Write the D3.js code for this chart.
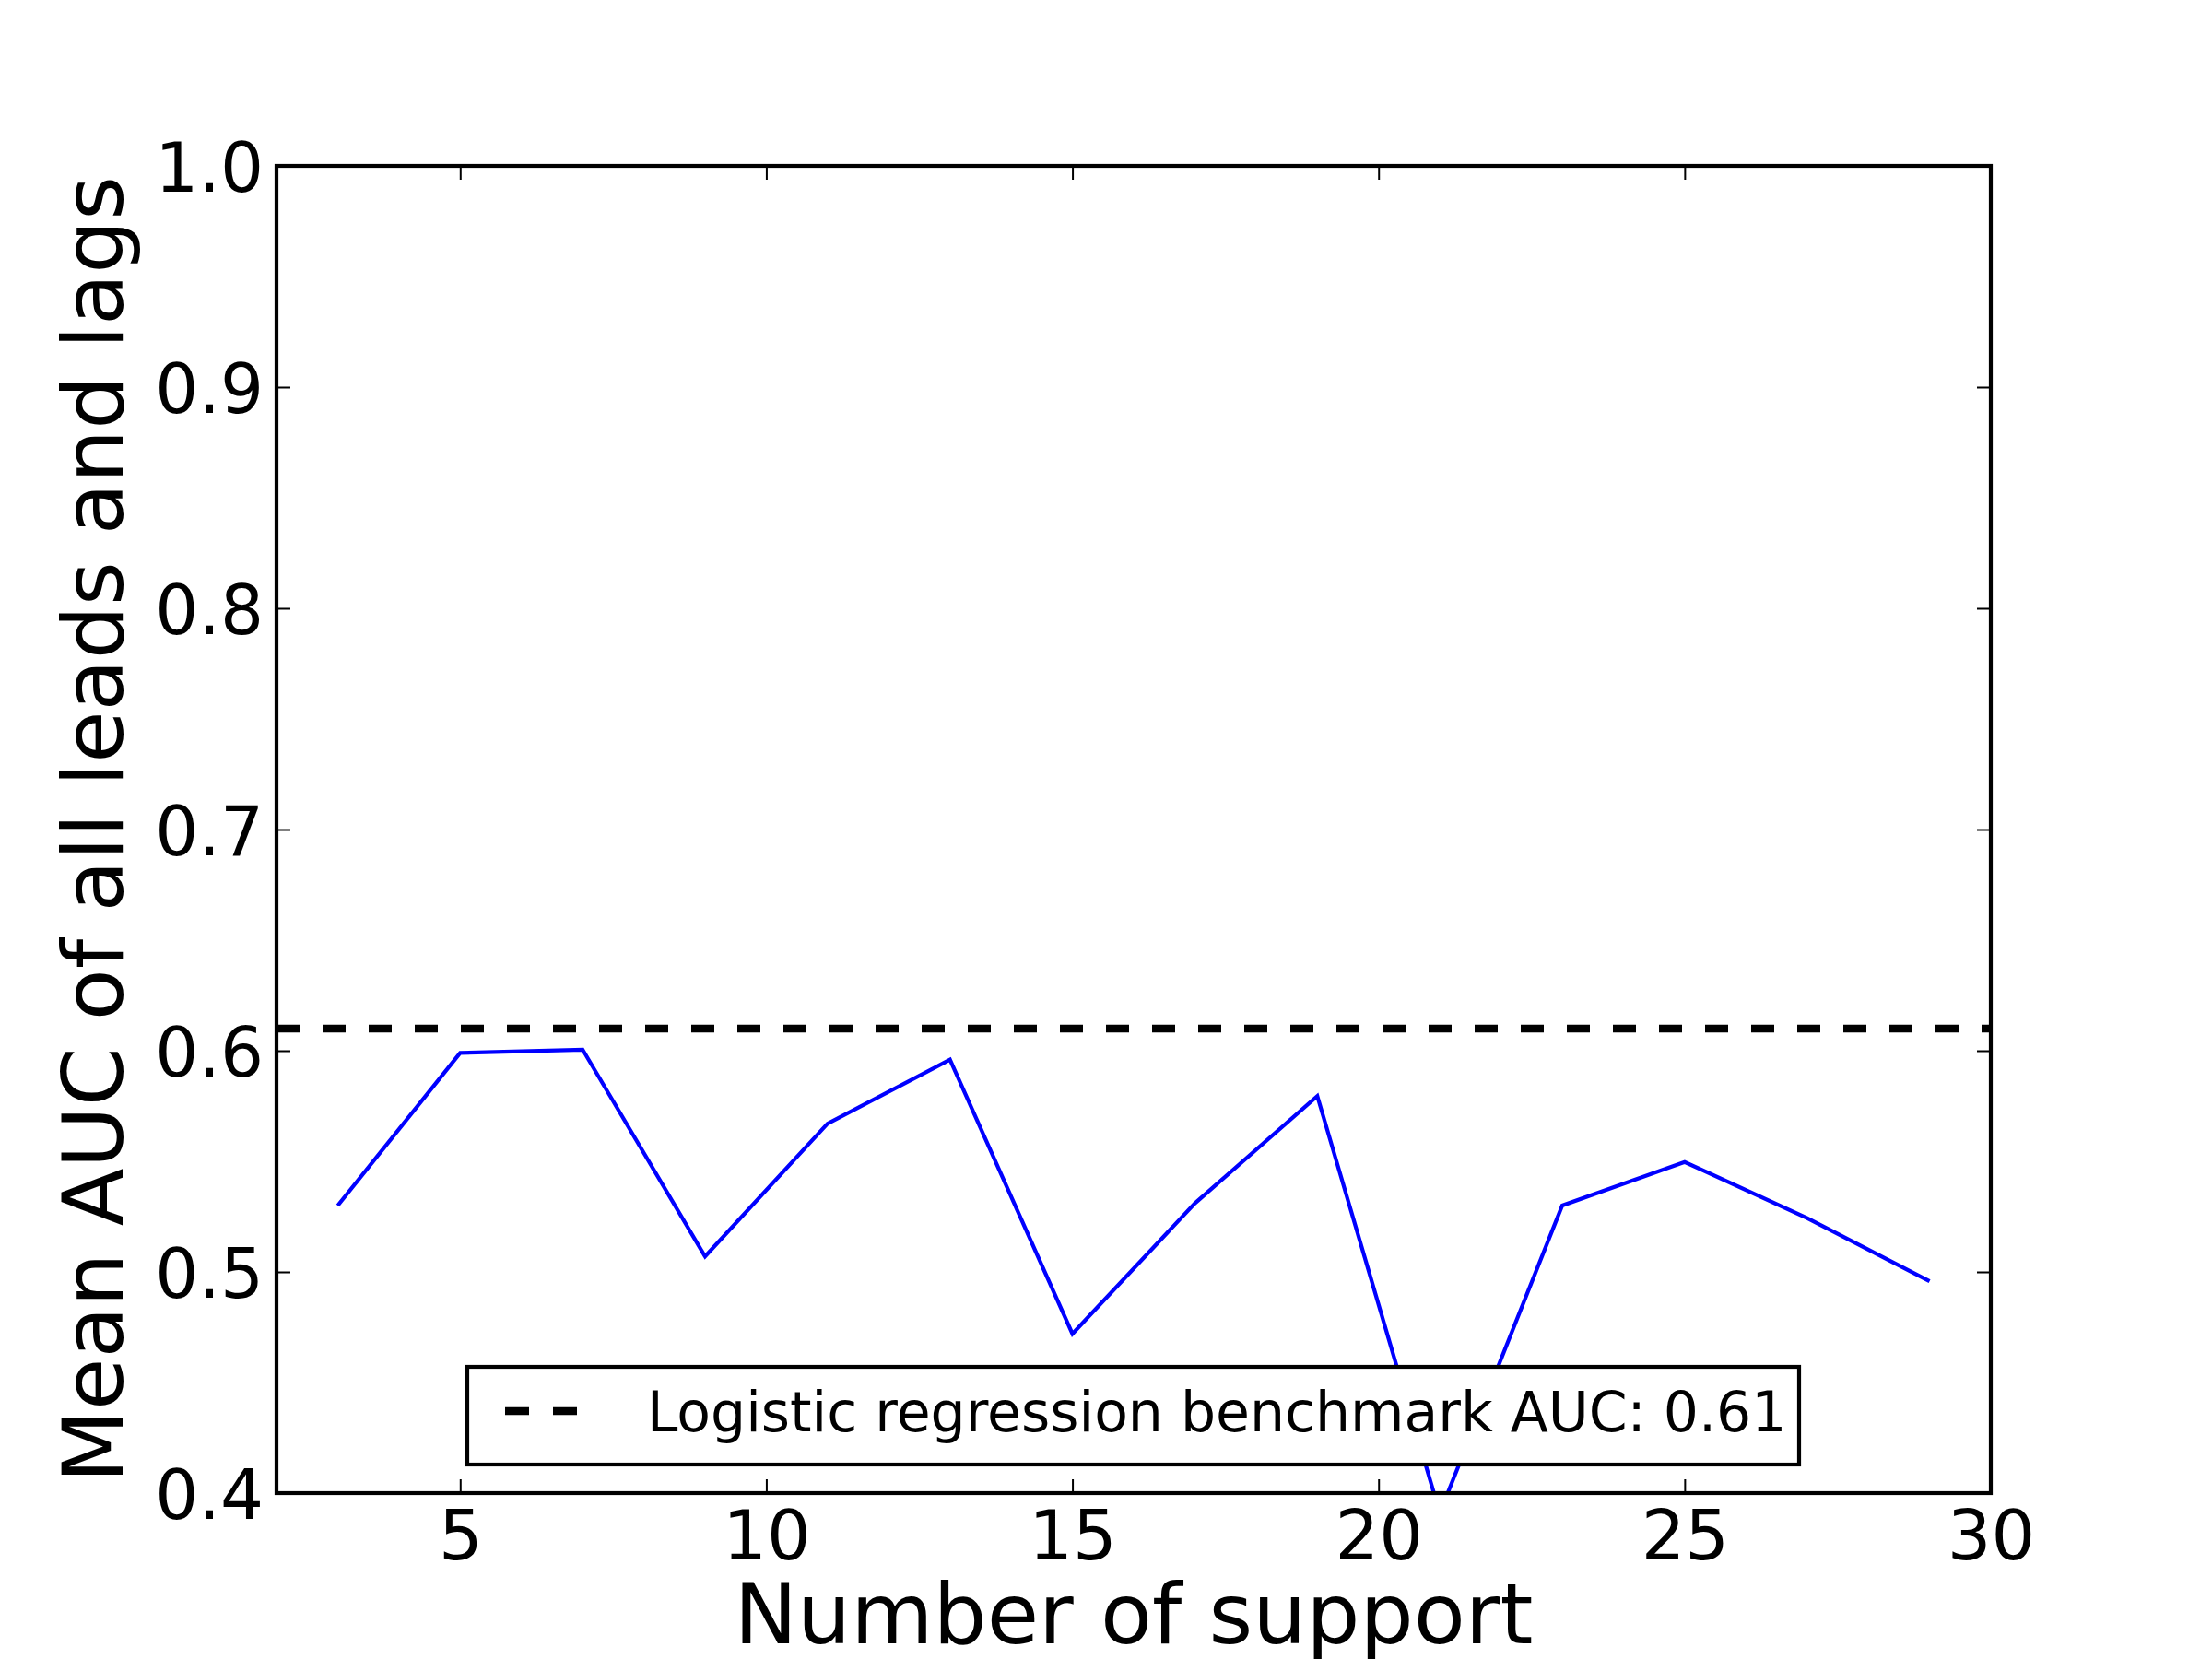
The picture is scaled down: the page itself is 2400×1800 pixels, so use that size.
<!DOCTYPE html>
<html>
<head>
<meta charset="utf-8">
<script src="https://cdn.jsdelivr.net/npm/d3@7"></script>
<style>
    body { margin: 0; background: #fff; }
    svg { display: block; }
    text { font-family: "DejaVu Sans", sans-serif; fill: #000; }
</style>
</head>
<body>
<svg id="svgmain" width="2400" height="1800"></svg>
<script>
// number of support (x) and mean AUC (y)
var supports = [3, 5, 7, 9, 11, 13, 15, 17, 19, 21, 23, 25, 27, 29]
var meanAuc = [0.530, 0.599, 0.6005, 0.507, 0.567, 0.596, 0.472, 0.531, 0.5795, 0.391, 0.530, 0.5497, 0.5243, 0.4958]
var benchmarkAuc = 0.61
var xTicks = [5, 10, 15, 20, 25, 30]
var yTicks = [0.4, 0.5, 0.6, 0.7, 0.8, 0.9, 1.0]
var xLabel = "Number of support"
var yLabel = "Mean AUC of all leads and lags"
var legendLabel = "Logistic regression benchmark AUC: 0.61"

// plot box (note: "top" is taken by window, so use other names)
var plotLeft = 300, plotRight = 2160, plotTop = 180, plotBottom = 1620

var mainsvg = d3.select("#svgmain")

var x = d3.scaleLinear().domain([2, 30]).range([plotLeft, plotRight])
var y = d3.scaleLinear().domain([0.4, 1.0]).range([plotBottom, plotTop])

mainsvg.append("defs").append("clipPath").attr("id", "plotclip")
    .append("rect").attr("x", plotLeft).attr("y", plotTop)
    .attr("width", plotRight - plotLeft).attr("height", plotBottom - plotTop)

// benchmark line
mainsvg.append("line")
    .attr("x1", x(2)).attr("x2", x(30))
    .attr("y1", y(benchmarkAuc)).attr("y2", y(benchmarkAuc))
    .attr("stroke", "#000").attr("stroke-width", 8.3)
    .attr("stroke-dasharray", "25,25")
    .attr("clip-path", "url(#plotclip)")

// AUC series
var line = d3.line()
    .x(function(d, i) { return x(supports[i]) })
    .y(function(d) { return y(d) })

mainsvg.append("path")
    .datum(meanAuc)
    .attr("d", line)
    .attr("fill", "none")
    .attr("stroke", "#0000ff")
    .attr("stroke-width", 4.2)
    .attr("stroke-linejoin", "miter")
    .attr("clip-path", "url(#plotclip)")

// axes, ticks point inwards like classic matplotlib
function styleAxis(g, fontSize) {
    g.select(".domain").remove()
    g.selectAll(".tick line").attr("stroke", "#000").attr("stroke-width", 2)
    g.selectAll(".tick text")
        .attr("font-size", fontSize)
        .attr("font-family", "DejaVu Sans, sans-serif")
        .attr("fill", "#000")
}

var xAxis = mainsvg.append("g").attr("transform", "translate(0," + plotBottom + ")")
    .call(d3.axisBottom(x).tickValues(xTicks).tickSize(-15).tickPadding(19).tickFormat(d3.format("d")))
styleAxis(xAxis, 75)

var xAxisTop = mainsvg.append("g").attr("transform", "translate(0," + plotTop + ")")
    .call(d3.axisTop(x).tickValues(xTicks).tickSize(-15).tickFormat(""))
styleAxis(xAxisTop, 75)

var yAxis = mainsvg.append("g").attr("transform", "translate(" + plotLeft + ",0)")
    .call(d3.axisLeft(y).tickValues(yTicks).tickSize(-15).tickPadding(14).tickFormat(d3.format(".1f")))
styleAxis(yAxis, 74)
yAxis.selectAll(".tick text").attr("dy", "0.367em")

var yAxisRight = mainsvg.append("g").attr("transform", "translate(" + plotRight + ",0)")
    .call(d3.axisRight(y).tickValues(yTicks).tickSize(-15).tickFormat(""))
styleAxis(yAxisRight, 75)

// frame
mainsvg.append("rect")
    .attr("x", plotLeft).attr("y", plotTop)
    .attr("width", plotRight - plotLeft).attr("height", plotBottom - plotTop)
    .attr("fill", "none").attr("stroke", "#000").attr("stroke-width", 4.2)

// axis labels
mainsvg.append("text")
    .attr("x", (plotLeft + plotRight) / 2).attr("y", 1783)
    .attr("text-anchor", "middle")
    .attr("font-size", 91.7)
    .text(xLabel)

mainsvg.append("text")
    .attr("transform", "translate(133," + ((plotTop + plotBottom) / 2) + ") rotate(-90)")
    .attr("text-anchor", "middle")
    .attr("font-size", 91.7)
    .text(yLabel)

// legend
var legend = mainsvg.append("g").attr("class", "legend")
legend.append("rect")
    .attr("x", 507).attr("y", 1483)
    .attr("width", 1952 - 507).attr("height", 1589 - 1483)
    .attr("fill", "#fff").attr("stroke", "#000").attr("stroke-width", 4.2)
legend.append("line")
    .attr("x1", 548).attr("x2", 626)
    .attr("y1", 1531).attr("y2", 1531)
    .attr("stroke", "#000").attr("stroke-width", 8.3)
    .attr("stroke-dasharray", "26,26")
legend.append("text")
    .attr("x", 702).attr("y", 1553)
    .attr("font-size", 60)
    .text(legendLabel)
</script>
</body>
</html>
